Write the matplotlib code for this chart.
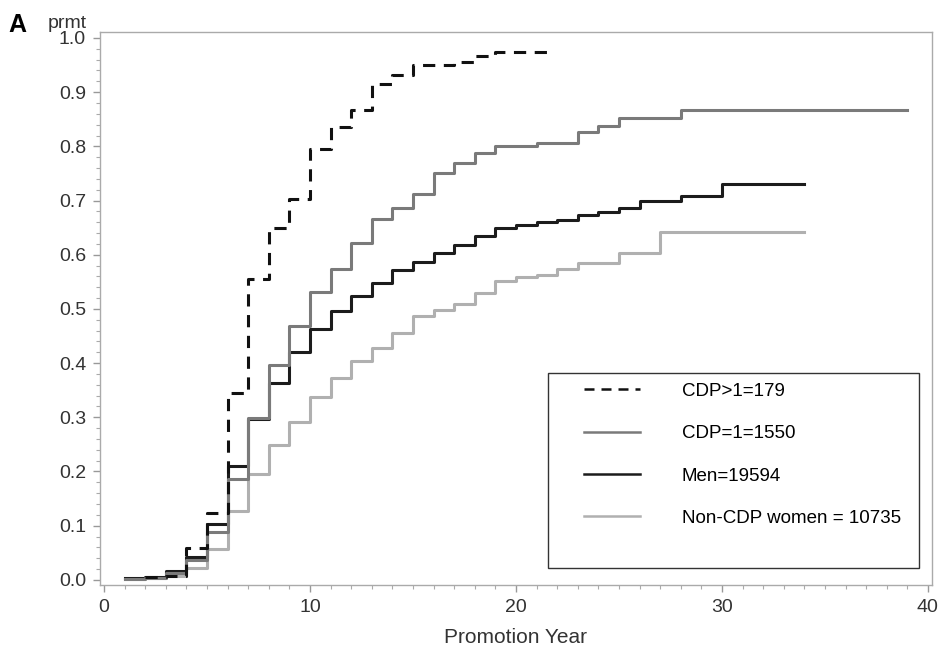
import numpy as np
import matplotlib.pyplot as plt
from matplotlib.patches import Rectangle
from matplotlib.ticker import MultipleLocator, FormatStrFormatter

plt.rcParams['font.family'] = ['Liberation Sans', 'DejaVu Sans']

# Step curves: year where each step starts, value held until next step, last year drawn
cdp_gt1_years = [2, 3, 4, 5, 6, 7, 8, 9, 10, 11, 12, 13, 14, 15, 17, 18, 19]
cdp_gt1_vals = [0.005, 0.007, 0.058, 0.123, 0.345, 0.555, 0.649, 0.703, 0.795, 0.836,
                0.867, 0.915, 0.932, 0.950, 0.956, 0.966, 0.974]
cdp_gt1_end = 21.7

cdp_eq1_years = [1, 2, 3, 4, 5, 6, 7, 8, 9, 10, 11, 12, 13, 14, 15, 16, 17, 18, 19, 21,
                 23, 24, 25, 28]
cdp_eq1_vals = [0.002, 0.004, 0.012, 0.037, 0.088, 0.186, 0.299, 0.396, 0.469, 0.532,
                0.573, 0.621, 0.665, 0.686, 0.712, 0.751, 0.770, 0.788, 0.801, 0.806,
                0.826, 0.837, 0.852, 0.867]
cdp_eq1_end = 39

men_years = [1, 2, 3, 4, 5, 6, 7, 8, 9, 10, 11, 12, 13, 14, 15, 16, 17, 18, 19, 20, 21,
             22, 23, 24, 25, 26, 28, 30]
men_vals = [0.003, 0.005, 0.017, 0.043, 0.103, 0.210, 0.297, 0.363, 0.421, 0.463, 0.497,
            0.523, 0.547, 0.571, 0.587, 0.604, 0.618, 0.635, 0.649, 0.655, 0.661, 0.664,
            0.673, 0.678, 0.686, 0.700, 0.708, 0.731]
men_end = 34

women_years = [1, 2, 3, 4, 5, 6, 7, 8, 9, 10, 11, 12, 13, 14, 15, 16, 17, 18, 19, 20, 21,
               22, 23, 25, 27]
women_vals = [0.002, 0.003, 0.008, 0.022, 0.057, 0.127, 0.196, 0.248, 0.292, 0.338,
              0.372, 0.403, 0.427, 0.455, 0.486, 0.498, 0.509, 0.530, 0.551, 0.558,
              0.563, 0.573, 0.584, 0.603, 0.641]
women_end = 34

labels = ['CDP>1=179', 'CDP=1=1550', 'Men=19594', 'Non-CDP women = 10735']


def step_xy(years, vals, end):
    return list(years) + [end], list(vals) + [vals[-1]]


fig = plt.figure(figsize=(9.39, 6.5), dpi=100)
ax = fig.add_axes([100 / 939, 1 - 585 / 650, 832 / 939, 553 / 650])

h_women, = ax.step(*step_xy(women_years, women_vals, women_end), where='post',
                   color='#b0b0b0', lw=2.2)
h_men, = ax.step(*step_xy(men_years, men_vals, men_end), where='post',
                 color='#1c1c1c', lw=2.2)
h_eq1, = ax.step(*step_xy(cdp_eq1_years, cdp_eq1_vals, cdp_eq1_end), where='post',
                 color='#7a7a7a', lw=2.2)
h_gt1, = ax.step(*step_xy(cdp_gt1_years, cdp_gt1_vals, cdp_gt1_end), where='post',
                 color='#111111', lw=2.2, dashes=(4, 2.8))

ax.set_xlim(-0.2, 40.2)
ax.set_ylim(-0.0095, 1.011)
ax.xaxis.set_major_locator(MultipleLocator(10))
ax.xaxis.set_minor_locator(MultipleLocator(1))
ax.yaxis.set_major_locator(MultipleLocator(0.1))
ax.yaxis.set_minor_locator(MultipleLocator(0.02))
ax.yaxis.set_major_formatter(FormatStrFormatter('%.1f'))

for s in ax.spines.values():
    s.set_color('#aaaaaa')
    s.set_linewidth(1.0)
ax.tick_params(which='major', direction='out', length=5, width=1, color='#999999',
               labelsize=14, labelcolor='#333333', pad=5)
ax.tick_params(which='minor', direction='out', length=3, width=0.8, color='#aaaaaa')

ax.set_xlabel('Promotion Year', fontsize=15, color='#333333', labelpad=9)

fig.text(8 / 939, 1 - 32 / 650, 'A', fontsize=18, fontweight='bold', va='baseline')
fig.text(48 / 939, 1 - 28 / 650, 'prmt', fontsize=14, color='#333333', va='baseline')

# legend box
ax.add_patch(Rectangle((0.5385, 0.0307), 0.4455, 0.3527, transform=ax.transAxes,
                       fill=False, edgecolor='#333333', lw=1.0, zorder=5))
leg = ax.legend([h_gt1, h_eq1, h_men, h_women], labels, loc='upper left',
                bbox_to_anchor=(0.582, 0.366), frameon=False, fontsize=13.5,
                handlelength=3.0, handletextpad=2.2, labelspacing=1.35, borderpad=0,
                borderaxespad=0)
for ln in leg.get_lines():
    ln.set_linewidth(1.8)

fig.savefig('out.png', dpi=100)
